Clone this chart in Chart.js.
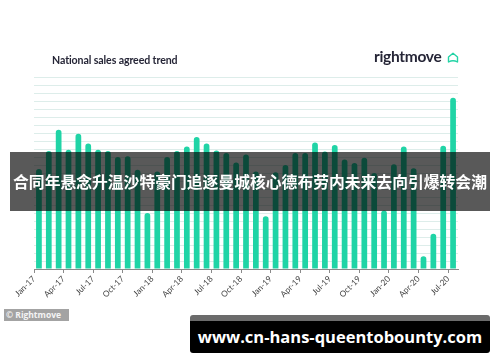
<!DOCTYPE html>
<html>
<head>
<meta charset="utf-8">
<script src="https://cdn.jsdelivr.net/npm/chart.js@4"></script>
<style>
html, body { margin: 0; padding: 0; background: #fff; }
#wrap { position: relative; width: 500px; height: 362px; overflow: hidden; font-family: Lato, "Open Sans", sans-serif; }
#chart { position: absolute; left: 0; top: 0; }
#title { position: absolute; left: 52px; top: 54px; font-size: 10.6px; font-weight: bold; color: #262637; letter-spacing: -0.1px; }
#logo { position: absolute; left: 374px; top: 47px; font-size: 15.5px; font-weight: bold; color: #262637; letter-spacing: -0.3px; }
#logo svg { position: absolute; left: 73px; top: 5px; }
#banner { position: absolute; left: 10px; top: 152px; width: 480px; height: 59px; background: rgba(0,0,0,0.65);
  color: #fff; font-family: "Noto Sans CJK SC", sans-serif; font-weight: bold; font-size: 15.8px; line-height: 59px; text-align: center; white-space: nowrap; }
#credit { position: absolute; left: 4px; top: 309px; width: 65px; height: 12px; background: #a3a3a3; color: #f4f4f4;
  font-family: "Open Sans", sans-serif; font-weight: bold; font-size: 8.5px; line-height: 12px; padding-left: 2px; box-sizing: border-box; }
#watermark { position: absolute; left: 190px; top: 315px; width: 300px; height: 38px; background: #000; border-top: 6px solid #6b6b6b;
  box-sizing: border-box; color: #fff; font-family: "Open Sans", sans-serif; font-weight: bold; font-size: 16.5px; line-height: 31px; text-align: center; border-radius: 3px; }
</style>
</head>
<body>
<div id="wrap">
  <canvas id="chart" width="500" height="362"></canvas>
  <div id="title">National sales agreed trend</div>
  <div id="logo">rightmove<svg width="12" height="11" viewBox="0 0 12 11"><path d="M1.5 10 L1.5 5 L6 1.3 L10.5 5 L10.5 10 Q6 7.5 1.5 10 Z" fill="none" stroke="#22d3a5" stroke-width="1.4" stroke-linejoin="round"/></svg></div>
  <div id="banner">合同年悬念升温沙特豪门追逐曼城核心德布劳内未来去向引爆转会潮</div>
  <div id="credit">© Rightmove</div>
  <div id="watermark">www.cn-hans-queentobounty.com</div>
</div>
<script>
// ---------- DATA ----------
const months = [
  "Jan-17", "Feb-17", "Mar-17", "Apr-17", "May-17", "Jun-17", "Jul-17", "Aug-17", "Sep-17", "Oct-17", "Nov-17", "Dec-17",
  "Jan-18", "Feb-18", "Mar-18", "Apr-18", "May-18", "Jun-18", "Jul-18", "Aug-18", "Sep-18", "Oct-18", "Nov-18", "Dec-18",
  "Jan-19", "Feb-19", "Mar-19", "Apr-19", "May-19", "Jun-19", "Jul-19", "Aug-19", "Sep-19", "Oct-19", "Nov-19", "Dec-19",
  "Jan-20", "Feb-20", "Mar-20", "Apr-20", "May-20", "Jun-20", "Jul-20"
];
const salesAgreed = [
  12.5, 14.75, 17.4, 14.9, 16.9, 15.7, 14.9, 14.75, 14.0, 14.1, 12.4, 7.0,
  12.2, 14.0, 14.75, 15.3, 16.5, 15.7, 14.8, 14.5, 13.3, 14.3, 12.2, 6.6,
  12.1, 13.0, 14.5, 14.5, 15.8, 14.7, 15.5, 13.7, 13.25, 13.9, 12.0, 7.3,
  13.1, 15.3, 12.6, 1.6, 4.4, 15.4, 21.4
];
const shownLabels = ["Jan-17", "Apr-17", "Jul-17", "Oct-17", "Jan-18", "Apr-18", "Jul-18", "Oct-18",
  "Jan-19", "Apr-19", "Jul-19", "Oct-19", "Jan-20", "Apr-20", "Jul-20"];
const yMax = 24;

// ---------- CHART ----------
const ctx = document.getElementById("chart").getContext("2d");
new Chart(ctx, {
  type: "bar",
  data: {
    labels: months,
    datasets: [{
      data: salesAgreed,
      backgroundColor: "#20d4a6",
      barPercentage: 0.58,
      categoryPercentage: 1,
      borderRadius: { topLeft: 3, topRight: 3, bottomLeft: 0, bottomRight: 0 },
      borderSkipped: "bottom"
    }]
  },
  options: {
    responsive: false,
    animation: false,
    layout: { padding: { left: 34, right: 42, top: 77, bottom: 0 } },
    plugins: { legend: { display: false }, tooltip: { enabled: false } },
    scales: {
      x: {
        offset: true,
        afterFit: s => { s.height = 93; },
        border: { color: "#8a8a8a", width: 1 },
        grid: {
          offset: true,
          drawOnChartArea: false,
          tickLength: 4,
          color: c => (c.index % 3 === 0 ? "#8a8a8a" : "rgba(0,0,0,0)")
        },
        ticks: {
          autoSkip: false,
          minRotation: 45,
          maxRotation: 45,
          labelOffset: -5,
          padding: 1,
          color: "#444",
          font: { family: "Lato", size: 8.3 },
          callback: function (v, i) {
            const l = months[i];
            return shownLabels.includes(l) ? l : "";
          }
        }
      },
      y: {
        min: 0,
        max: yMax,
        afterFit: s => { s.width = 0; },
        border: { display: false },
        grid: { color: "#ddedea", lineWidth: 1, drawTicks: false },
        ticks: { display: false, stepSize: 1 }
      }
    }
  }
});
</script>
</body>
</html>
